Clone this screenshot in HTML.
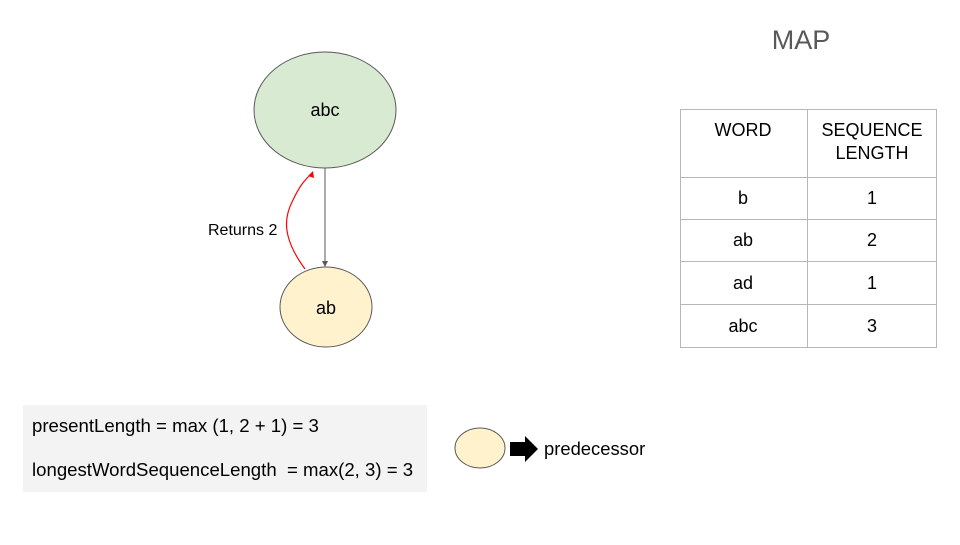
<!DOCTYPE html>
<html><head><meta charset="utf-8"><style>
body{margin:0;background:#fff}
text{font-family:"Liberation Sans",Arial,sans-serif;}
</style></head><body>
<svg width="960" height="540" viewBox="0 0 960 540" xmlns="http://www.w3.org/2000/svg">
<rect width="960" height="540" fill="#fff"/>
<ellipse cx="325" cy="110" rx="71" ry="58" fill="#d9ead3" stroke="#595959" stroke-width="1"/>
<text x="325" y="116" font-size="18" text-anchor="middle" fill="#000">abc</text>
<ellipse cx="326" cy="307" rx="46" ry="40" fill="#fff2cc" stroke="#595959" stroke-width="1"/>
<text x="326" y="314" font-size="18" text-anchor="middle" fill="#000">ab</text>
<line x1="325" y1="168" x2="325" y2="262" stroke="#595959" stroke-width="1"/>
<polygon points="322,261 328,261 325,267" fill="#595959"/>
<path d="M305,269 C280,235 285,215 293,200 C300,185 305,180 311,174" fill="none" stroke="#ff0000" stroke-width="1.2"/>
<polygon points="313,171 314,178 308,176" fill="#ff0000"/>
<text x="208" y="235" font-size="16" fill="#000">Returns 2</text>
<text x="801" y="49" font-size="27" text-anchor="middle" fill="#595959">MAP</text>
<g stroke="#b7b7b7" stroke-width="1" fill="none">
<rect x="680.5" y="109.5" width="256" height="238"/>
<line x1="807.5" y1="109" x2="807.5" y2="347"/>
<line x1="680" y1="177.5" x2="936" y2="177.5"/>
<line x1="680" y1="219.5" x2="936" y2="219.5"/>
<line x1="680" y1="261.5" x2="936" y2="261.5"/>
<line x1="680" y1="304.5" x2="936" y2="304.5"/>
</g>
<g font-size="18" text-anchor="middle" fill="#000">
<text x="743" y="136">WORD</text>
<text x="872" y="136">SEQUENCE</text>
<text x="872" y="159">LENGTH</text>
<text x="743" y="204">b</text><text x="872" y="204">1</text>
<text x="743" y="246">ab</text><text x="872" y="246">2</text>
<text x="743" y="289">ad</text><text x="872" y="289">1</text>
<text x="743" y="332">abc</text><text x="872" y="332">3</text>
</g>
<rect x="23" y="405" width="404" height="87" fill="#f3f3f3"/>
<text x="32" y="432" font-size="18.6" fill="#000">presentLength = max (1, 2 + 1) = 3</text>
<text x="32" y="476" font-size="18.6" fill="#000" xml:space="preserve">longestWordSequenceLength  = max(2, 3) = 3</text>
<ellipse cx="480" cy="448" rx="25" ry="20" fill="#fff2cc" stroke="#595959" stroke-width="1"/>
<polygon points="510,442 525,442 525,436 538,449 525,462 525,456 510,456" fill="#000"/>
<text x="544" y="455" font-size="18.4" fill="#000">predecessor</text>
</svg>
</body></html>
